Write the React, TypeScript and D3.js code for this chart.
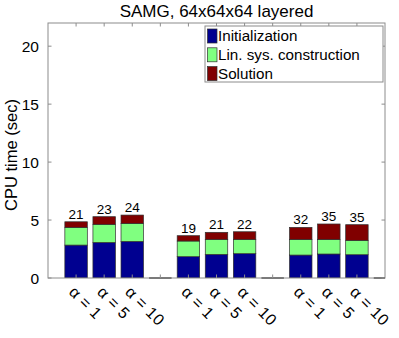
import React from "react";
import * as d3 from "d3";

const positions = [1, 2, 3, 4, 5, 6, 7, 8, 9, 10, 11, 12];
const tickLabels = ["α = 1", "α = 5", "α = 10", "", "α = 1", "α = 5", "α = 10", "", "α = 1", "α = 5", "α = 10", ""];
const initialization = [2.84, 3.07, 3.16, 0, 1.84, 2.04, 2.1, 0, 1.98, 2.07, 2.01, 0];
const linSysConstruction = [1.53, 1.56, 1.55, 0, 1.35, 1.29, 1.23, 0, 1.35, 1.26, 1.24, 0];
const solution = [0.48, 0.66, 0.72, 0, 0.46, 0.61, 0.66, 0, 1.04, 1.33, 1.35, 0];
const iterations = ["21", "23", "24", "", "19", "21", "22", "", "32", "35", "35", ""];
const seriesNames = ["Initialization", "Lin. sys. construction", "Solution"];
const seriesColors = ["#000090", "#80ff80", "#800000"];
const yTicks = [0, 5, 10, 15, 20];

const W = 399, H = 338;
const M = { left: 48, right: 385, top: 23, bottom: 278 };
const FONT = "Liberation Sans, Arial, Helvetica, sans-serif";

export default function App() {
  const x = d3.scaleLinear().domain([0, 12]).range([M.left, M.right]);
  const y = d3.scaleLinear().domain([0, 22]).range([M.bottom, M.top]);
  const bw = (x(1) - x(0)) * 0.8;

  const rows = positions.map((p, i) => ({
    p,
    Initialization: initialization[i],
    "Lin. sys. construction": linSysConstruction[i],
    Solution: solution[i],
  }));
  const stacked = d3.stack<any>().keys(seriesNames)(rows);
  const totals = positions.map((_, i) => initialization[i] + linSysConstruction[i] + solution[i]);

  const axisColor = "#8c8c8c";
  const tickLen = 3.5;

  return (
    <svg width={W} height={H} style={{ position: "absolute", left: 0, top: 0 }} fontFamily={FONT}>
      <rect x={0} y={0} width={W} height={H} fill="#fff" />
      {/* title */}
      <text x={(M.left + M.right) / 2} y={16.5} textAnchor="middle" fontSize={17} fill="#000">
        SAMG, 64x64x64 layered
      </text>
      {/* bars */}
      <defs>
        <clipPath id="plotclip">
          <rect x={M.left} y={M.top} width={M.right - M.left} height={M.bottom - M.top} />
        </clipPath>
      </defs>
      <g clipPath="url(#plotclip)">
        {stacked.map((s, si) =>
          s.map((d, i) => (
            <rect
              key={si + "-" + i}
              x={x(positions[i]) - bw / 2}
              y={y(d[1])}
              width={bw}
              height={Math.max(0, y(d[0]) - y(d[1]))}
              fill={seriesColors[si]}
              stroke="#303030"
              strokeWidth={0.7}
            />
          ))
        )}
      </g>
      {/* axes box */}
      <rect x={M.left} y={M.top} width={M.right - M.left} height={M.bottom - M.top} fill="none" stroke={axisColor} strokeWidth={1} />
      {/* zero-height bars drawn as lines on the baseline */}
      {positions.map((p, i) =>
        totals[i] === 0 ? (
          <line key={"z" + i} x1={Math.max(M.left, x(p) - bw / 2)} x2={Math.min(M.right, x(p) + bw / 2)} y1={y(0)} y2={y(0)} stroke="#303030" strokeWidth={1} />
        ) : null
      )}
      {/* y ticks */}
      {yTicks.map((t) => (
        <g key={"y" + t}>
          <line x1={M.left} x2={M.left + tickLen} y1={y(t)} y2={y(t)} stroke={axisColor} />
          <line x1={M.right} x2={M.right - tickLen} y1={y(t)} y2={y(t)} stroke={axisColor} />
          <text x={M.left - 9} y={y(t)} dy="0.36em" textAnchor="end" fontSize={15.5} fill="#000">
            {t}
          </text>
        </g>
      ))}
      {/* x ticks */}
      {positions.slice(0, 11).map((p, i) => (
        <g key={"x" + p}>
          <line x1={x(p)} x2={x(p)} y1={M.bottom} y2={M.bottom - tickLen} stroke={axisColor} />
          <line x1={x(p)} x2={x(p)} y1={M.top} y2={M.top + tickLen} stroke={axisColor} />
          {tickLabels[i] ? (
            <text
              transform={`translate(${x(p) - 8},${M.bottom + 15}) rotate(45)`}
              fontSize={16}
              letterSpacing={0.4}
              fill="#000"
            >
              {tickLabels[i]}
            </text>
          ) : null}
        </g>
      ))}
      {/* bar top labels */}
      {positions.map((p, i) =>
        iterations[i] ? (
          <text key={"l" + i} x={x(p)} y={y(totals[i]) - 3} textAnchor="middle" fontSize={13.5} fill="#000">
            {iterations[i]}
          </text>
        ) : null
      )}
      {/* y label */}
      <text transform={`translate(17,155) rotate(-90)`} textAnchor="middle" fontSize={16.5} fill="#000">
        CPU time (sec)
      </text>
      {/* legend */}
      <g>
        <rect x={205} y={26} width={178} height={56} fill="#fff" stroke={axisColor} strokeWidth={1} />
        {seriesNames.map((n, i) => (
          <g key={n}>
            <rect x={207.5} y={29 + i * 18.8} width={9.5} height={14} fill={seriesColors[i]} stroke="#303030" strokeWidth={0.7} />
            <text x={218} y={36 + i * 18.8} dy="0.36em" fontSize={15.2} fill="#000">
              {n}
            </text>
          </g>
        ))}
      </g>
    </svg>
  );
}
